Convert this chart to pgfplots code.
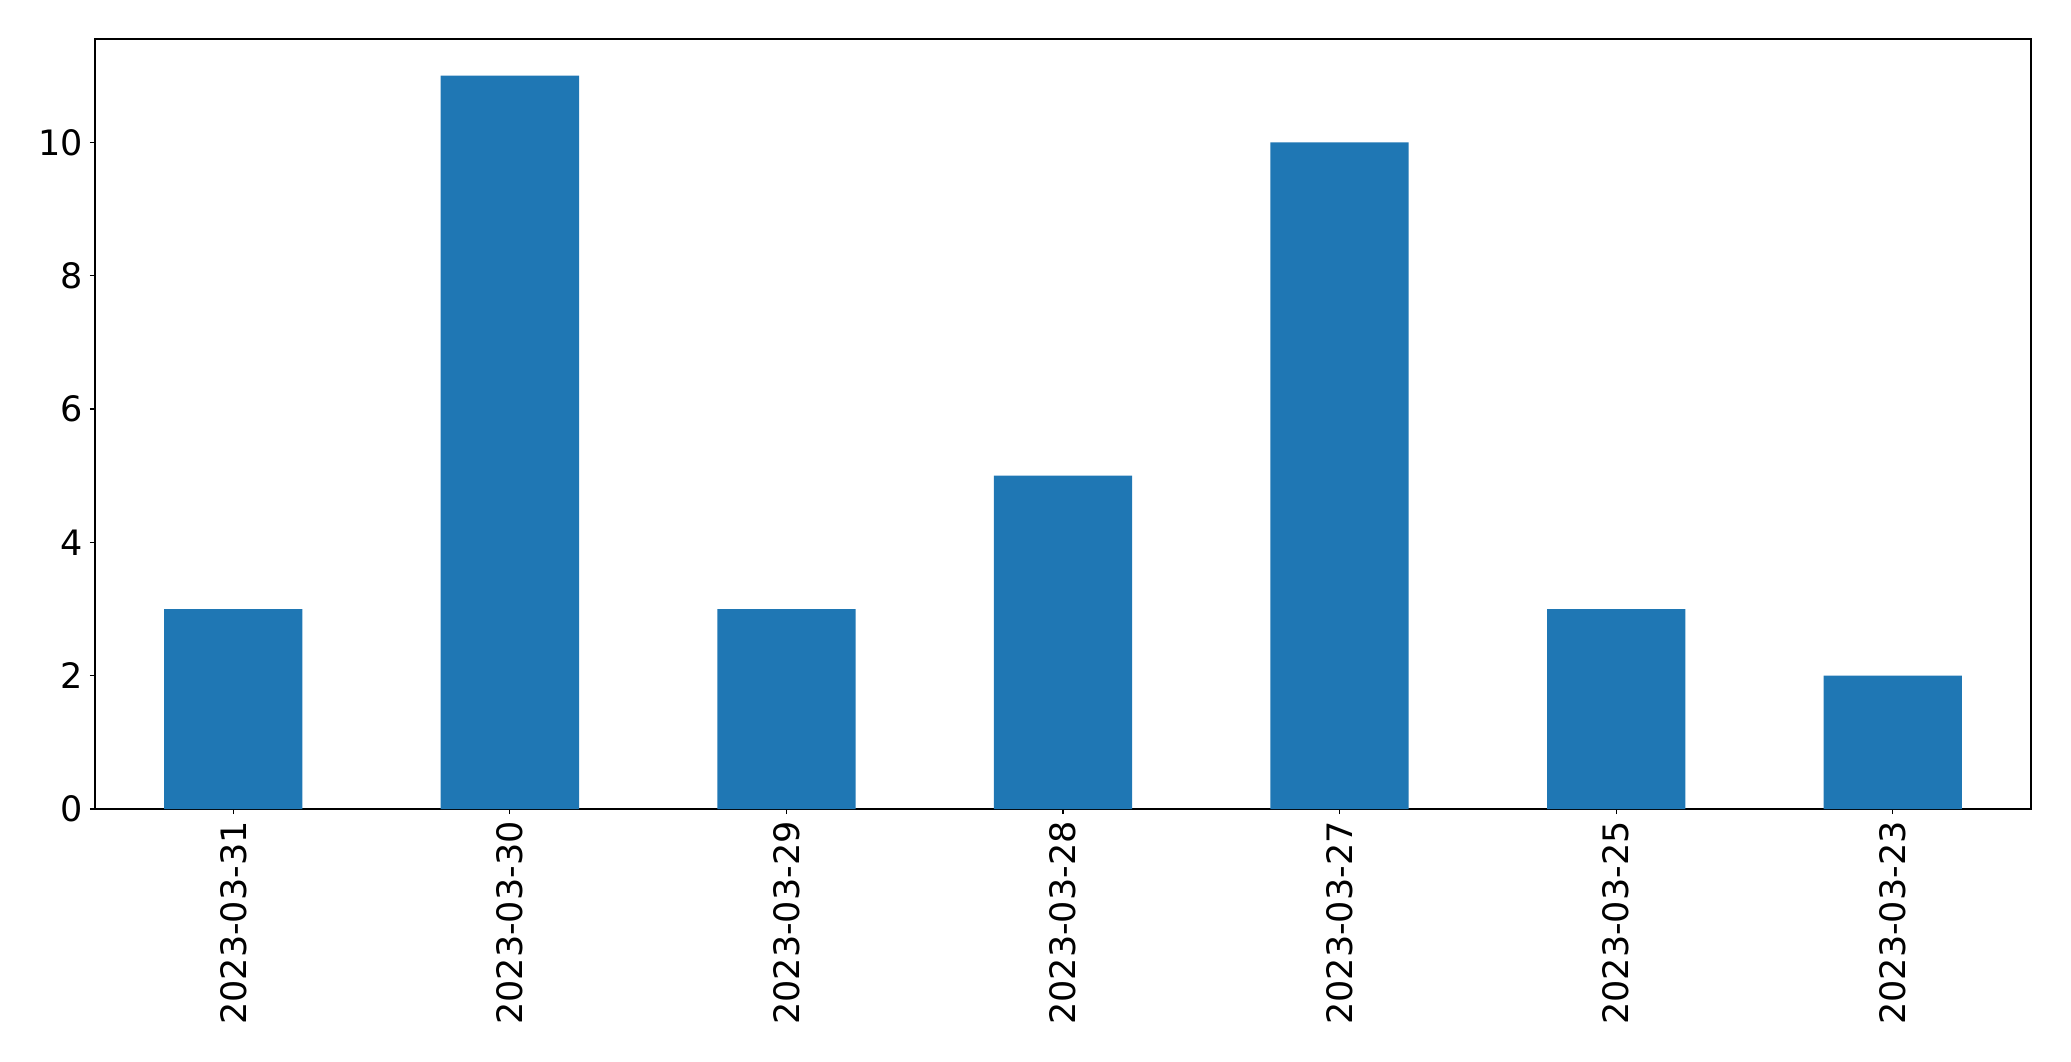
\documentclass[border=0pt]{standalone}
\usepackage{fontspec}
\setmainfont{DejaVu Sans}
\usepackage{pgfplots}
\pgfplotsset{compat=1.18}
\definecolor{mplblue}{HTML}{1F77B4}
\begin{document}
\begin{tikzpicture}
\begin{axis}[
  name=ax,
  scale only axis,
  width=968pt, height=385pt,
  xmin=-0.5, xmax=6.5,
  ymin=0, ymax=11.55,
  xtick={0,1,2,3,4,5,6},
  xticklabels={2023-03-31,2023-03-30,2023-03-29,2023-03-28,2023-03-27,2023-03-25,2023-03-23},
  x tick label style={rotate=90, anchor=east, font=\fontsize{17.5}{20}\selectfont},
  ytick={0,2,4,6,8,10},
  y tick label style={font=\fontsize{17.5}{20}\selectfont},
  /pgf/number format/assume math mode=true,
  tick align=outside,
  major tick length=2.6pt,
  tick style={black, line width=0.6pt},
  xtick pos=bottom, ytick pos=left,
  axis line style={line width=0.6pt},
  ybar, bar width=0.5, 
]
\addplot[fill=mplblue, draw=none, bar width=0.5, bar shift=0pt] coordinates {
(0,3) (1,11) (2,3) (3,5) (4,10) (5,3) (6,2)
};
\end{axis}
\pgfresetboundingbox
\path ([xshift=-47.5pt,yshift=-126pt]ax.south west) rectangle ([xshift=20pt,yshift=19.5pt]ax.north east);
\end{tikzpicture}
\end{document}
